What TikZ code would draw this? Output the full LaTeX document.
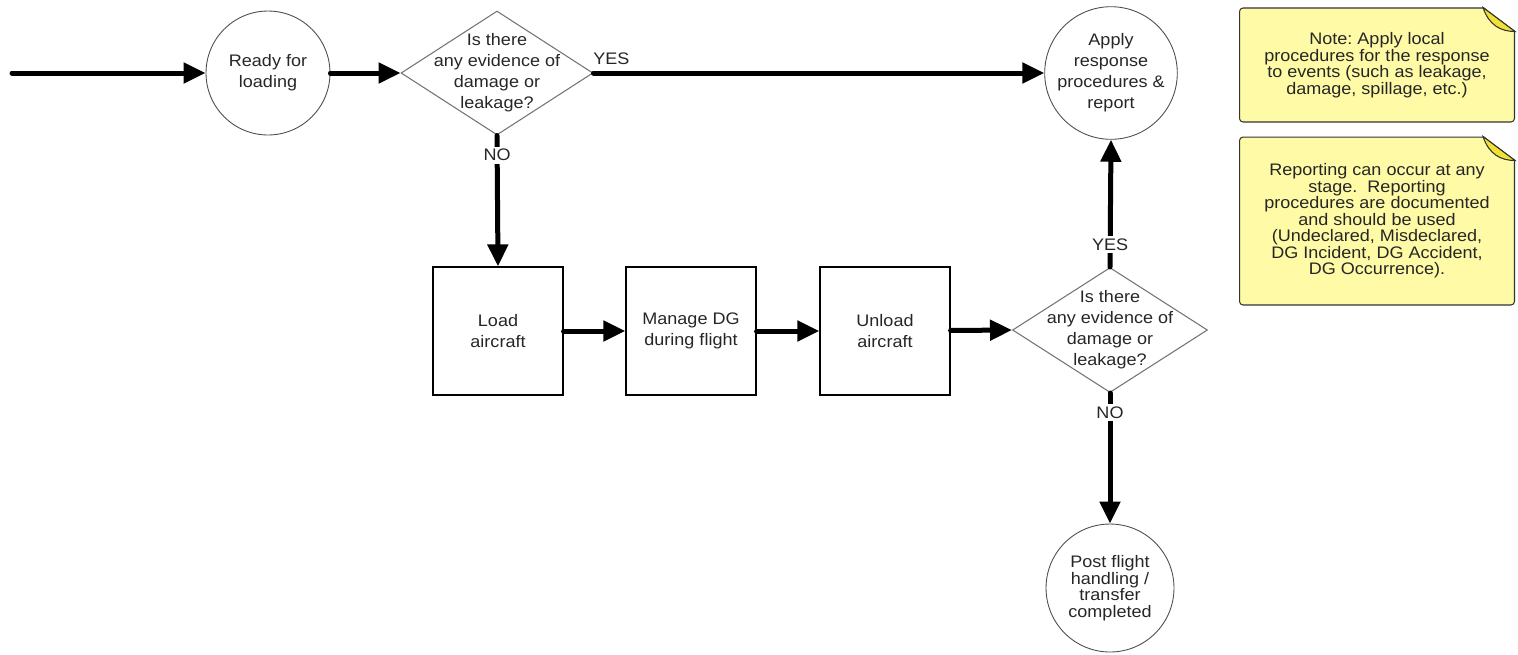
\documentclass[tikz,border=0pt]{standalone}
\usepackage{fontspec}
\setmainfont[FakeStretch=1.08]{Liberation Sans}
\usetikzlibrary{arrows.meta,shapes.geometric,calc}
\frenchspacing

\definecolor{memofill}{RGB}{255,250,165}
\definecolor{memofold}{RGB}{240,225,50}
\newcommand{\mainfs}{\fontsize{9.5}{11.9}\selectfont}
\newcommand{\memofs}{\fontsize{9.5}{9.4}\selectfont\lineskiplimit=-5pt}

\tikzset{
	event/.style={circle,draw=black!70,line width=0.5pt,minimum size=2.56cm,inner sep=0pt,align=center,font=\mainfs,text=black!85},
	task/.style={rectangle,draw=black,line width=0.7pt,minimum width=2.6cm,minimum height=2.56cm,align=center,font=\mainfs,text=black!85},
	check/.style={diamond,draw=black!55,line width=0.6pt,minimum width=3.84cm,minimum height=2.48cm,inner sep=0pt},
	memo/.style={rectangle,rounded corners=2pt,draw=black!80,line width=0.6pt,fill=memofill,minimum width=5.5cm,align=center,font=\memofs,text=black!85},
	flow/.style={line width=0.1cm,line cap=round,-{Triangle[length=0.44cm,width=0.4cm]}},
	answer/.style={font=\mainfs,text=black!85,inner sep=1.5pt}
}

\begin{document}
\begin{tikzpicture}[x=0.02cm,y=-0.02cm]
	\useasboundingbox (0,0) rectangle (1518,654);
	\coordinate (in) at (12,73);
	\node[event,minimum size=2.48cm] (ready) at (268,73) {Ready for\\loading};
	\node[check,label={[font=\mainfs,text=black!85,align=center]center:Is there\\any evidence of\\damage or\\leakage?}] (check1) at (497,73) {};
	\node[event] (apply) at (1111,73) {Apply\\response\\procedures \&\\report};
	\node[task] (load) at (498,331) {Load\\aircraft};
	\node[task] (manage) at (691,331) {Manage DG\\during flight};
	\node[task] (unload) at (885,331) {Unload\\aircraft};
	\node[check,minimum width=3.9cm,minimum height=2.5cm,label={[font=\mainfs,text=black!85,align=center]center:Is there\\any evidence of\\damage or\\leakage?}] (check2) at (1110,330) {};
	\node[event,font=\memofs] (post) at (1110,588) {Post flight\\handling /\\transfer\\completed};
	\draw[flow] (in)--(ready.west);
	\draw[flow] (ready)--(check1.west);
	\draw[flow] (check1.east)--(apply.west) node[answer,pos=0,above right,xshift=-3pt,yshift=2pt]{YES};
	\draw[flow] (check1.south)--(load.north) node[answer,pos=0.15,fill=white]{NO};
	\draw[flow] (load)--(manage);
	\draw[flow] (manage)--(unload);
	\draw[flow] (unload)--(check2.west);
	\draw[flow] (check2.north)--(apply.south) node[answer,pos=0.175,fill=white]{YES};
	\draw[flow] (check2.south)--(post.north) node[answer,pos=0.15,fill=white]{NO};
	% notes
	\node[memo,minimum height=2.28cm] (note1) at (1377,65) {Note: Apply local\\procedures for the response\\to events (such as leakage,\\damage, spillage, etc.)};
	\node[memo,minimum height=3.36cm] (note2) at (1377,221) {Reporting can occur at any\\stage.~ Reporting\\procedures are documented\\and should be used\\(Undeclared, Misdeclared,\\DG Incident, DG Accident,\\DG Occurrence).};
	\foreach \n in {note1,note2}{
		\fill[white] ($(\n.north east)+(-32,-1)$)--($(\n.north east)+(1,-1)$)--($(\n.north east)+(1,24)$)--cycle;
		\draw[black!80,line width=0.6pt] ($(\n.north east)+(-32,0)$)--($(\n.north east)+(0,24)$);
		\draw[black!80,line width=0.6pt,fill=memofold] ($(\n.north east)+(-32,0)$) .. controls ($(\n.north east)+(-26,18)$) and ($(\n.north east)+(-14,24)$) .. ($(\n.north east)+(0,24)$)--cycle;
	}
\end{tikzpicture}
\end{document}
